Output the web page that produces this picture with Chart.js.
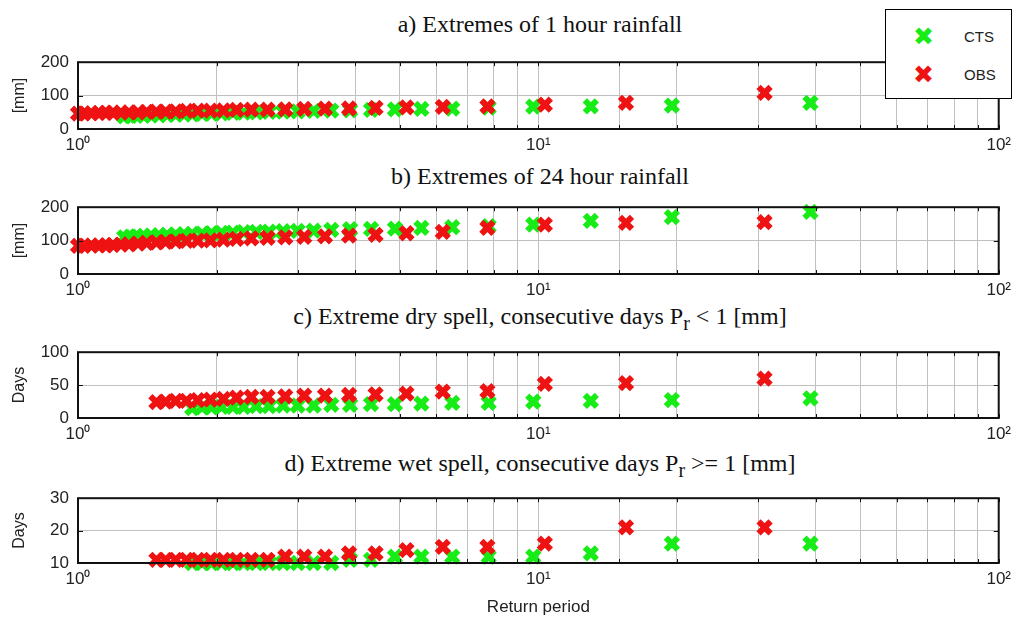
<!DOCTYPE html>
<html>
<head>
<meta charset="utf-8">
<script src="https://cdn.jsdelivr.net/npm/chart.js@4"></script>
<style>
	body { margin: 0; background: #fff; width: 1017px; height: 624px; position: relative; overflow: hidden; }
	canvas { position: absolute; left: 0; }
	.ttl { position: absolute; left: 78px; width: 924px; text-align: center; font-family: "Liberation Serif", serif; font-size: 24px; color: #111; line-height: 28px; }
	.ttl sub { font-size: 20px; vertical-align: -6px; line-height: 0; }
	.legend { position: absolute; left: 885px; top: 9px; width: 125px; height: 88px; border: 1px solid #000; background: #fff; font-family: "Liberation Sans", sans-serif; font-size: 15px; color: #222; }
	.legend div { position: absolute; left: 0; width: 125px; height: 24px; line-height: 24px; }
	.legend .mk { position: absolute; left: 27px; font-family: "DejaVu Sans"; font-size: 25px; }
	.legend .tx { position: absolute; left: 78px; }
</style>
</head>
<body>

<div class="ttl" style="top:10px">a) Extremes of 1 hour rainfall</div>
<div class="ttl" style="top:162px">b) Extremes of 24 hour rainfall</div>
<div class="ttl" style="top:302px">c) Extreme dry spell, consecutive days P<sub>r</sub> &lt; 1 [mm]</div>
<div class="ttl" style="top:449px">d) Extreme wet spell, consecutive days P<sub>r</sub> &gt;= 1 [mm]</div>

<canvas id="pa" width="1017" height="116" style="top:43px"></canvas>
<canvas id="pb" width="1017" height="116" style="top:188px"></canvas>
<canvas id="pc" width="1017" height="115" style="top:333px"></canvas>
<canvas id="pd" width="1017" height="144" style="top:479px"></canvas>

<div class="legend">
	<div style="top:15px"><span class="mk" style="color:#17ec17">✖</span><span class="tx">CTS</span></div>
	<div style="top:53px"><span class="mk" style="color:#ee1212">✖</span><span class="tx">OBS</span></div>
</div>

<script>
// Return periods
const obsPeriod = [31, 15.5, 10.33, 7.75, 6.2, 5.17, 4.43, 3.88, 3.44, 3.1, 2.82, 2.58, 2.38, 2.21, 2.07, 1.94, 1.82, 1.72, 1.63, 1.55, 1.48, 1.41, 1.35, 1.29, 1.24, 1.19, 1.15, 1.11, 1.07, 1.03, 1.0];
const ctsPeriod = [39, 19.5, 13, 9.75, 7.8, 6.5, 5.57, 4.88, 4.33, 3.9, 3.55, 3.25, 3.0, 2.79, 2.6, 2.44, 2.29, 2.17, 2.05, 1.95, 1.86, 1.77, 1.7, 1.63, 1.56, 1.5, 1.44, 1.39, 1.34, 1.3, 1.26];

// a) 1 hour rainfall [mm]
const obs1h = [108, 78, 73, 68, 66, 65, 63, 62, 61, 60, 59, 58, 58, 57, 56, 55, 55, 54, 53, 52, 52, 51, 50, 50, 49, 49, 48, 48, 47, 47, 46];
const cts1h = [78, 70, 68, 67, 64, 61, 60, 59, 57, 56, 55, 54, 53, 52, 51, 50, 49, 48, 47, 46, 45, 44, 44, 43, 42, 41, 41, 40, 40, 39, 38];

// b) 24 hour rainfall [mm]
const obs24h = [155, 153, 148, 138, 126, 122, 117, 115, 113, 111, 110, 108, 107, 105, 103, 101, 100, 99, 98, 96, 95, 93, 91, 89, 88, 87, 86, 86, 85, 85, 84];
const cts24h = [186, 170, 159, 148, 143, 140, 138, 136, 135, 134, 132, 130, 129, 128, 127, 126, 125, 124, 123, 122, 121, 120, 119, 118, 117, 116, 115, 114, 113, 112, 110];

// c) dry spell [days]
const obsDry = [60, 53, 52, 41, 40, 37, 36, 35, 34, 34, 33, 32, 32, 31, 29, 28, 27, 26, 26, 25, 24];
const ctsDry = [30, 27, 26, 25, 23, 23, 22, 21, 21, 20, 20, 19, 19, 19, 18, 18, 17, 17, 17, 16, 16, 15];

// d) wet spell [days]
const obsWet = [21, 21, 16, 15, 15, 14, 13, 13, 12, 12, 12, 11, 11, 11, 11, 11, 11, 11, 11, 11, 11];
const ctsWet = [16, 16, 13, 12, 12, 12, 12, 12, 11, 11, 10, 10, 10, 10, 10, 10, 10, 10, 10, 10, 10, 10];

const xTickValues = [1, 10, 100];
const xTickLabels = ["10⁰", "10¹", "10²"];

const tickFont = { family: "Liberation Sans", size: 17 };

// black box round the plot area plus small inward ticks like matlab
const framePlugin = {
	id: "frame",
	afterDraw(chart) {
		const { ctx, chartArea: a, scales } = chart;
		ctx.save();
		ctx.strokeStyle = "#111";
		ctx.lineWidth = 1;
		scales.x.ticks.forEach((t) => {
			const px = Math.round(scales.x.getPixelForValue(t.value)) + 0.5;
			ctx.beginPath();
			ctx.moveTo(px, a.top); ctx.lineTo(px, a.top + 4);
			ctx.moveTo(px, a.bottom); ctx.lineTo(px, a.bottom - 4);
			ctx.stroke();
		});
		scales.y.ticks.forEach((t) => {
			const py = Math.round(scales.y.getPixelForValue(t.value)) + 0.5;
			ctx.beginPath();
			ctx.moveTo(a.left, py); ctx.lineTo(a.left + 5, py);
			ctx.moveTo(a.right, py); ctx.lineTo(a.right - 5, py);
			ctx.stroke();
		});
		ctx.lineWidth = 2;
		ctx.strokeRect(a.left, a.top, a.right - a.left, a.bottom - a.top);
		ctx.restore();
	},
};

function pairs(periods, values) {
	return values.map((v, i) => ({ x: periods[i], y: v }));
}

function makePanel(id, obs, cts, yMin, yMax, yStep, yTitle, xTitle) {
	const ctx = document.getElementById(id).getContext("2d");
	return new Chart(ctx, {
		type: "scatter",
		data: {
			datasets: [
				{
					label: "OBS",
					data: pairs(obsPeriod, obs),
					pointStyle: "crossRot",
					pointRadius: 8.5,
					pointBorderWidth: 6,
					borderColor: "#ee1212",
					backgroundColor: "#ee1212",
					order: 0,
					clip: false,
				},
				{
					label: "CTS",
					data: pairs(ctsPeriod, cts),
					pointStyle: "crossRot",
					pointRadius: 8.5,
					pointBorderWidth: 6,
					borderColor: "#17ec17",
					backgroundColor: "#17ec17",
					order: 1,
					clip: false,
				},
			],
		},
		options: {
			responsive: false,
			animation: false,
			devicePixelRatio: 1,
			layout: { padding: { left: 0, right: 15, top: 12, bottom: 0 } },
			plugins: { legend: { display: false }, tooltip: { enabled: false } },
			scales: {
				x: {
					type: "logarithmic",
					min: 1,
					max: 100,
					afterFit: (s) => { s.height = xTitle ? 60 : 30; },
					grid: { color: "#c0c0c0", lineWidth: 1, drawTicks: false },
					border: { display: false },
					ticks: {
						autoSkip: false,
						maxRotation: 0,
						padding: 6,
						color: "#222",
						font: tickFont,
						callback: (v) => {
							const k = xTickValues.indexOf(v);
							return k >= 0 ? xTickLabels[k] : "";
						},
					},
					title: {
						display: !!xTitle,
						text: xTitle || "",
						color: "#222",
						font: { family: "Liberation Sans", size: 17 },
						padding: { top: 0, bottom: 5 },
					},
				},
				y: {
					min: yMin,
					max: yMax,
					afterFit: (s) => { s.width = 78; },
					grid: { color: "#c0c0c0", lineWidth: 1, drawTicks: false },
					border: { display: false },
					ticks: { stepSize: yStep, padding: 9, color: "#222", font: tickFont },
					title: {
						display: true,
						text: yTitle,
						color: "#222",
						font: { family: "Liberation Sans", size: 16 },
						padding: { top: 10, bottom: 0 },
					},
				},
			},
		},
		plugins: [framePlugin],
	});
}

makePanel("pa", obs1h, cts1h, 0, 200, 100, "[mm]");
makePanel("pb", obs24h, cts24h, 0, 200, 100, "[mm]");
makePanel("pc", obsDry, ctsDry, 0, 100, 50, "Days");
makePanel("pd", obsWet, ctsWet, 10, 30, 10, "Days", "Return period");
</script>
</body>
</html>
